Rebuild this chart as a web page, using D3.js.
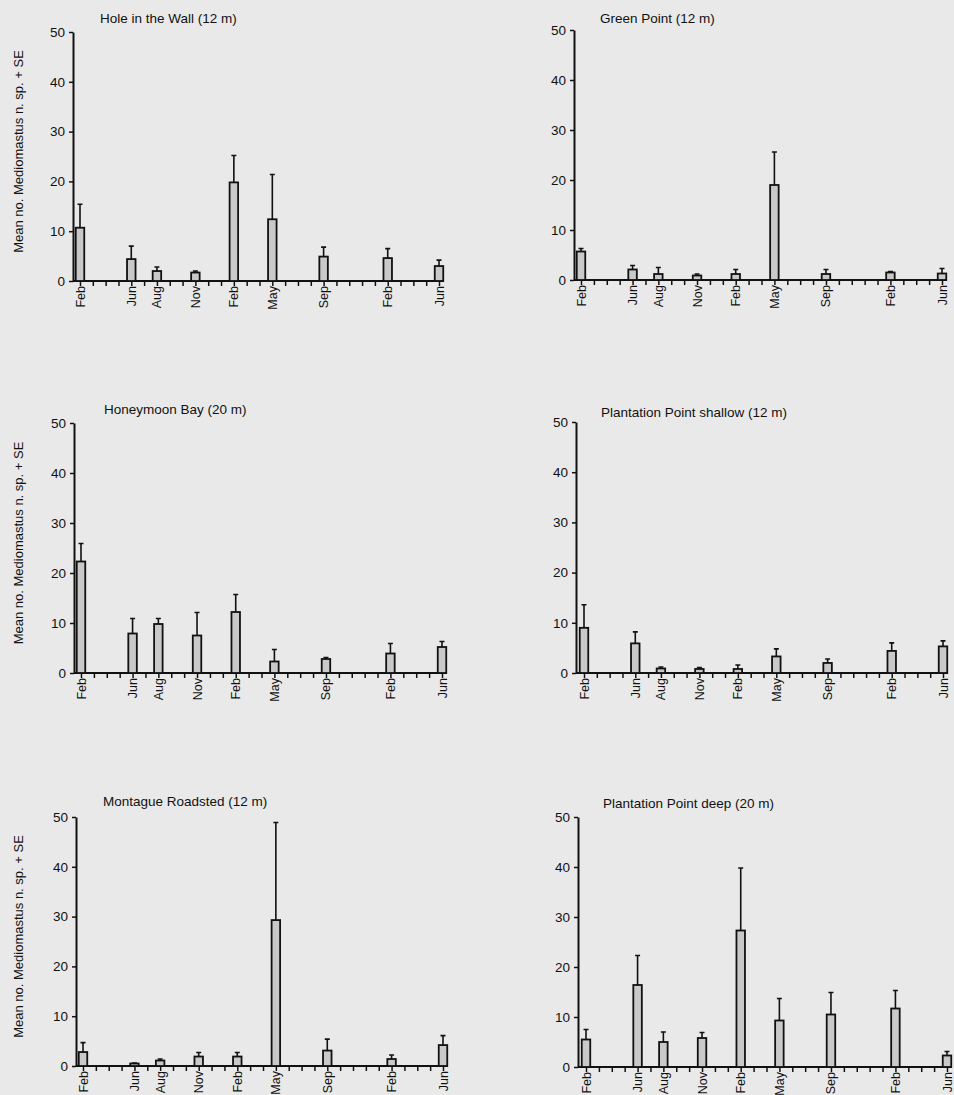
<!DOCTYPE html>
<html>
<head>
<meta charset="utf-8">
<script src="https://cdn.jsdelivr.net/npm/d3@7"></script>
<style>
  html, body { margin: 0; padding: 0; background: #e9e9e9; }
  svg { display: block; font-family: "Liberation Sans", Arial, Helvetica, sans-serif; }
  .domain { stroke: #111; stroke-width: 2; }
  .tick line { stroke: #111; stroke-width: 1.5; }
</style>
</head>
<body>
<svg id="chart" width="954" height="1095"></svg>
<script>
// months since the first February sample
const monthIndex = [0, 4, 6, 9, 12, 15, 19, 24, 28]
const monthLabels = ['Feb', 'Jun', 'Aug', 'Nov', 'Feb', 'May', 'Sep', 'Feb', 'Jun']
const yTicks = [0, 10, 20, 30, 40, 50]

const siteNames = [
  'Hole in the Wall (12 m)',
  'Green Point (12 m)',
  'Honeymoon Bay (20 m)',
  'Plantation Point shallow (12 m)',
  'Montague Roadsted (12 m)',
  'Plantation Point deep (20 m)',
]

const holeMean = [10.7, 4.4, 2.0, 1.7, 19.8, 12.4, 4.9, 4.6, 3.0]
const holeSE = [4.7, 2.6, 0.8, 0.3, 5.4, 9.0, 1.9, 1.9, 1.2]
const greenMean = [5.7, 2.1, 1.2, 0.9, 1.2, 19.0, 1.2, 1.5, 1.3]
const greenSE = [0.6, 0.8, 1.3, 0.3, 0.9, 6.6, 0.9, 0.2, 1.0]
const honeyMean = [22.3, 7.9, 9.8, 7.5, 12.2, 2.3, 2.8, 3.9, 5.2]
const honeySE = [3.6, 3.0, 1.1, 4.6, 3.5, 2.4, 0.3, 2.0, 1.1]
const ppShallowMean = [9.0, 5.9, 0.9, 0.8, 0.8, 3.3, 2.0, 4.4, 5.3]
const ppShallowSE = [4.6, 2.3, 0.3, 0.3, 0.8, 1.5, 0.8, 1.6, 1.1]
const montagueMean = [2.8, 0.5, 1.1, 1.9, 1.9, 29.3, 3.1, 1.4, 4.2]
const montagueSE = [1.9, 0.1, 0.3, 0.8, 0.8, 19.6, 2.3, 0.8, 1.9]
const ppDeepMean = [5.5, 16.4, 5.0, 5.8, 27.3, 9.3, 10.5, 11.7, 2.3]
const ppDeepSE = [2.0, 5.9, 2.0, 1.1, 12.5, 4.4, 4.4, 3.6, 0.8]

const seriesMeans = [holeMean, greenMean, honeyMean, ppShallowMean, montagueMean, ppDeepMean]
const seriesSE = [holeSE, greenSE, honeySE, ppShallowSE, montagueSE, ppDeepSE]

// panel placement on the page
const panels = [
  { axisX: 73, y0: 281, yTop: 32, x0: 80, x1: 439, tx: 100, ty: 23, yLabel: true },
  { axisX: 574, y0: 280, yTop: 30, x0: 581, x1: 942, tx: 600, ty: 23, yLabel: false },
  { axisX: 74, y0: 673, yTop: 423, x0: 81, x1: 442, tx: 104, ty: 414, yLabel: true },
  { axisX: 576, y0: 673, yTop: 422, x0: 584, x1: 943, tx: 601, ty: 417, yLabel: false },
  { axisX: 76, y0: 1066, yTop: 817, x0: 83, x1: 443, tx: 103, ty: 806, yLabel: true },
  { axisX: 578, y0: 1067, yTop: 817, x0: 586, x1: 947, tx: 603, ty: 808, yLabel: false },
]

const svg = d3.select('#chart')
const barWidth = 8.5
const capWidth = 5

panels.forEach((p, i) => {
  const g = svg.append('g')

  const x = d3.scaleLinear().domain([0, 28]).range([p.x0, p.x1])
  const y = d3.scaleLinear().domain([0, 50]).range([p.y0, p.yTop])

  const rows = monthIndex.map((m, k) => ({
    m,
    label: monthLabels[k],
    mean: seriesMeans[i][k],
    se: seriesSE[i][k],
  }))

  // y axis
  g.append('g')
    .attr('transform', `translate(${p.axisX},0)`)
    .call(d3.axisLeft(y).tickValues(yTicks).tickSize(4).tickPadding(4).tickSizeOuter(0))
    .call((a) => a.selectAll('text').attr('font-size', 13.5).attr('fill', '#111').attr('font-family', null))

  // x axis: a tick for every month
  const xAxis = g.append('g')
    .attr('transform', `translate(0,${p.y0})`)
    .call(d3.axisBottom(x).tickValues(d3.range(0, 29)).tickSize(5).tickSizeOuter(0).tickFormat(''))
  xAxis.select('.domain').attr('d', `M${p.axisX},0H${p.x1 + 5}`)

  // month labels
  g.selectAll('text.month')
    .data(rows)
    .join('text')
    .classed('month', true)
    .attr('transform', (d) => `translate(${x(d.m)},${p.y0 + 5}) rotate(-90)`)
    .attr('text-anchor', 'end')
    .attr('dy', '0.36em')
    .attr('font-size', 12.5)
    .attr('fill', '#111')
    .text((d) => d.label)

  // error bars
  g.selectAll('path.err')
    .data(rows)
    .join('path')
    .classed('err', true)
    .attr('d', (d) => {
      const cx = x(d.m)
      const top = y(d.mean + d.se)
      return `M${cx},${y(d.mean)}V${top}M${cx - capWidth / 2},${top}H${cx + capWidth / 2}`
    })
    .attr('stroke', '#111')
    .attr('stroke-width', 1.6)
    .attr('fill', 'none')

  // bars
  g.selectAll('rect.bar')
    .data(rows)
    .join('rect')
    .classed('bar', true)
    .attr('x', (d) => x(d.m) - barWidth / 2)
    .attr('y', (d) => y(d.mean))
    .attr('width', barWidth)
    .attr('height', (d) => y(0) - y(d.mean))
    .attr('fill', '#c9c9c9')
    .attr('stroke', '#111')
    .attr('stroke-width', 1.8)

  // title
  g.append('text')
    .attr('x', p.tx)
    .attr('y', p.ty)
    .attr('font-size', 13.5)
    .attr('fill', '#111')
    .text(siteNames[i])

  if (p.yLabel) {
    g.append('text')
      .attr('transform', `translate(23,${(p.y0 + p.yTop) / 2 - 5}) rotate(-90)`)
      .attr('text-anchor', 'middle')
      .attr('font-size', 13)
      .attr('fill', '#111')
      .text('Mean no. Mediomastus n. sp. + SE')
  }
})
</script>
</body>
</html>
